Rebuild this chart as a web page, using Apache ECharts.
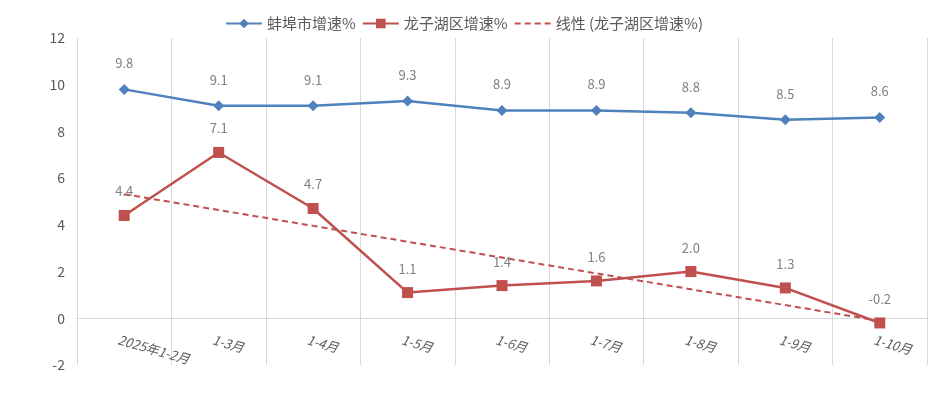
<!DOCTYPE html>
<html><head><meta charset="utf-8">
<script src="https://cdn.jsdelivr.net/npm/echarts@6/dist/echarts.min.js"></script>
<style>html,body{margin:0;padding:0;background:#fff}#c{width:928px;height:396px}</style>
</head><body><div id="c"></div>
<script>
const categories = ['2025年1-2月','1-3月','1-4月','1-5月','1-6月','1-7月','1-8月','1-9月','1-10月'];
const bengbu = [9.8, 9.1, 9.1, 9.3, 8.9, 8.9, 8.8, 8.5, 8.6];
const longzihu = [4.4, 7.1, 4.7, 1.1, 1.4, 1.6, 2.0, 1.3, -0.2];
const seriesNames = ['蚌埠市增速%', '龙子湖区增速%', '线性 (龙子湖区增速%)'];

// linear least-squares trend of the 龙子湖区 series (as the Excel trendline)
const n = longzihu.length;
const xs = longzihu.map((_, i) => i + 1);
const mx = xs.reduce((a, b) => a + b, 0) / n;
const my = longzihu.reduce((a, b) => a + b, 0) / n;
let sxy = 0, sxx = 0;
for (let i = 0; i < n; i++) { sxy += (xs[i] - mx) * (longzihu[i] - my); sxx += (xs[i] - mx) ** 2; }
const slope = sxy / sxx;
const trend = xs.map(x => +(my + slope * (x - mx)).toFixed(3));

const font = '"Microsoft YaHei","Noto Sans CJK SC","Liberation Sans",sans-serif';
const chart = echarts.init(document.getElementById('c'));
chart.setOption({
  animation: false,
  textStyle: { fontFamily: font },
  legend: {
    top: 11, left: 'center',
    itemWidth: 36, itemHeight: 12, itemGap: 6,
    textStyle: { color: '#595959', fontSize: 15, fontFamily: font },
    data: [
      { name: seriesNames[0] },
      { name: seriesNames[1] },
      { name: seriesNames[2], itemStyle: { opacity: 0 } }
    ]
  },
  grid: { left: 77, right: 1, top: 38, bottom: 31, containLabel: false, outerBoundsMode: 'none' },
  xAxis: {
    type: 'category', data: categories, boundaryGap: true,
    axisLine: { onZero: true, lineStyle: { color: '#d9d9d9', width: 1 } },
    axisTick: { show: false },
    splitLine: { show: true, lineStyle: { color: '#d9d9d9', width: 1 } },
    axisLabel: { rotate: -16, margin: -24, color: '#595959', fontSize: 13, fontStyle: 'italic', fontFamily: font, padding: [0, 0, 0, -6] }
  },
  yAxis: {
    type: 'value', min: -2, max: 12, interval: 2,
    axisLine: { show: false }, axisTick: { show: false },
    splitLine: { show: false },
    axisLabel: { color: '#595959', fontSize: 14, margin: 12, fontFamily: font }
  },
  series: [
    {
      name: seriesNames[0], type: 'line', data: bengbu,
      symbol: 'diamond', symbolSize: 11,
      itemStyle: { color: '#4F81BD' },
      lineStyle: { color: '#4F81BD', width: 2.5 },
      label: { show: true, position: 'top', distance: 14, color: '#808080', fontSize: 13, formatter: p => p.value.toFixed(1) }
    },
    {
      name: seriesNames[1], type: 'line', data: longzihu,
      symbol: 'rect', symbolSize: 11,
      itemStyle: { color: '#C0504D' },
      lineStyle: { color: '#C0504D', width: 2.5 },
      label: { show: true, position: 'top', distance: 12, color: '#808080', fontSize: 13, formatter: p => p.value.toFixed(1) }
    },
    {
      name: seriesNames[2], type: 'line', data: trend,
      symbol: 'none',
      itemStyle: { color: '#C0504D' },
      lineStyle: { color: '#C0504D', width: 2, type: [6, 4] },
      z: 1
    }
  ]
});
</script></body></html>
